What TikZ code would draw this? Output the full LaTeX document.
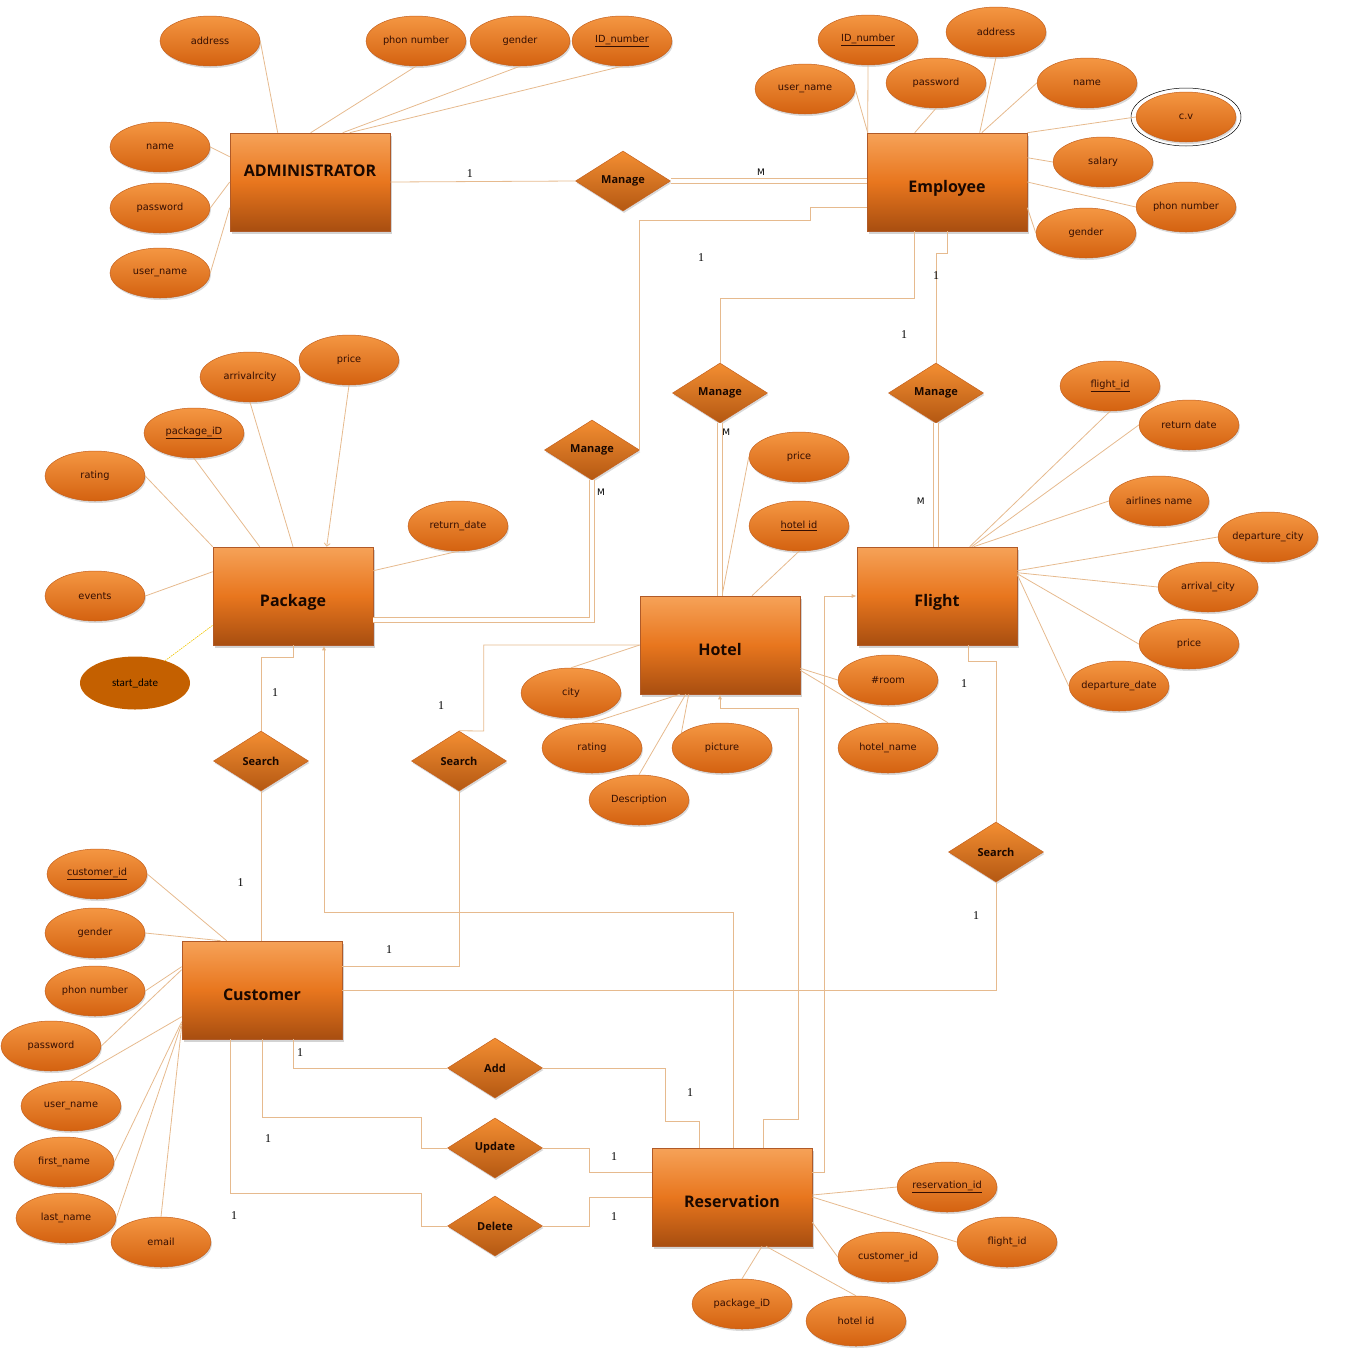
\documentclass[tikz,border=0pt]{standalone}
\usepackage{fontspec}
\setmainfont{Open Sans}
\newfontfamily\attrfont{DejaVu Sans}
\newfontfamily\numfont{Liberation Serif}
\newfontfamily\calfont{Carlito}
\usetikzlibrary{shapes.geometric,shadows,calc,arrows.meta}

\definecolor{lnc}{RGB}{230,186,142}
\definecolor{attrt}{RGB}{244,150,66}
\definecolor{attrbot}{RGB}{212,98,16}
\definecolor{attrb}{RGB}{196,96,30}
\definecolor{attrtx}{RGB}{52,14,2}
\definecolor{entt}{RGB}{246,162,88}
\definecolor{entm}{RGB}{232,118,30}
\definecolor{entbot}{RGB}{168,78,16}
\definecolor{entb}{RGB}{176,90,40}
\definecolor{enttx}{RGB}{26,8,0}
\definecolor{relt}{RGB}{243,142,50}
\definecolor{relbot}{RGB}{180,88,18}
\definecolor{sdc}{RGB}{196,96,0}
\definecolor{sdline}{RGB}{240,196,0}

\tikzset{
  attr/.style={ellipse, draw=attrb, line width=0.5pt, minimum width=100pt, minimum height=50pt,
    inner xsep=-8pt, inner ysep=0pt, top color=attrt, bottom color=attrbot,
    drop shadow={shadow xshift=1pt, shadow yshift=-2pt, opacity=0.3},
    font=\attrfont\fontsize{9.8}{11}\selectfont, text=attrtx},
  sattr/.style={ellipse, fill=sdc, minimum width=110pt, minimum height=53pt, inner sep=0pt,
    font=\calfont\fontsize{11}{12}\selectfont, text=black},
  ent/.style={rectangle, draw=entb, line width=0.6pt, minimum width=160pt, minimum height=98pt,
    text height=20pt, text depth=0pt,
    top color=entt, bottom color=entbot, middle color=entm,
    drop shadow={shadow xshift=1.5pt, shadow yshift=-2.5pt, opacity=0.35},
    font=\fontsize{16}{18}\selectfont\bfseries, text=enttx},
  rel/.style={diamond, draw=attrb, line width=0.5pt, minimum width=95pt, minimum height=60pt,
    inner sep=0pt, top color=relt, bottom color=relbot,
    drop shadow={shadow xshift=1pt, shadow yshift=-2pt, opacity=0.3},
    font=\fontsize{11}{13}\selectfont\bfseries, text=enttx},
  card/.style={font=\numfont\fontsize{12}{13}\selectfont, inner sep=1pt},
  mcard/.style={font=\attrfont\fontsize{9}{11}\selectfont, inner sep=1pt},
  ln/.style={draw=lnc, line width=0.8pt},
  dbl/.style={ln, double=white, double distance=3.5pt},
  sdl/.style={draw=sdline, line width=0.6pt, dash pattern=on 1.5pt off 1pt}
}

\begin{document}
\begin{tikzpicture}[x=1pt,y=-1pt,>={Latex[length=5pt,width=4pt]}]
\useasboundingbox (0,0) rectangle (1352,1350);

\node[ent,text depth=31pt] (adm) at (310,182) {ADMINISTRATOR};
\node[ent] (emp) at (947,182) {Employee};
\node[ent] (pkg) at (293,596) {Package};
\node[ent] (htl) at (720,645) {Hotel};
\node[ent] (flt) at (937,596) {Flight};
\node[ent] (cus) at (262,990) {Customer};
\node[ent] (res) at (732,1197) {Reservation};

\node[rel] (mg1) at (623,181) {Manage};
\node[rel] (mg2) at (592,450) {Manage};
\node[rel] (mg3) at (720,393) {Manage};
\node[rel] (mg4) at (936,393) {Manage};
\node[rel] (sr1) at (261,761) {Search};
\node[rel] (sr2) at (459,761) {Search};
\node[rel] (sr3) at (996,852) {Search};
\node[rel] (add) at (495,1068) {Add};
\node[rel] (upd) at (495,1148) {Update};
\node[rel] (del) at (495,1226) {Delete};

\node[attr] (aad) at (210,41) {address};
\node[attr] (aph) at (416,41) {phon number};
\node[attr] (agd) at (520,41) {gender};
\node[attr] (aid) at (622,41) {\underline{ID\_number}};
\node[attr] (anm) at (160,147) {name};
\node[attr] (apw) at (160,208) {password};
\node[attr] (aun) at (160,273) {user\_name};

\node[attr] (eid) at (868,40) {\underline{ID\_number}};
\node[attr] (ead) at (996,32) {address};
\node[attr] (eun) at (805,89) {user\_name};
\node[attr] (epw) at (936,83) {password};
\node[attr] (enm) at (1087,83) {name};
\node[attr] (ecv) at (1186,117) {c.v};
\node[attr] (esl) at (1103,162) {salary};
\node[attr] (eph) at (1186,207) {phon number};
\node[attr] (egd) at (1086,233) {gender};
\draw[black, line width=0.5pt] (ecv) ellipse [x radius=55pt, y radius=29pt];

\node[attr] (ppr) at (349,360) {price};
\node[attr] (par) at (250,377) {arrivalrcity};
\node[attr] (pid) at (194,433) {\underline{package\_iD}};
\node[attr] (prt) at (95,476) {rating};
\node[attr] (prd) at (458,526) {return\_date};
\node[attr] (pev) at (95,596) {events};
\node[sattr] (psd) at (135,683) {start\_date};

\node[attr] (hpr) at (799,457) {price};
\node[attr] (hid) at (799,526) {\underline{hotel id}};
\node[attr] (hct) at (571,693) {city};
\node[attr] (hrt) at (592,748) {rating};
\node[attr] (hpc) at (722,748) {picture};
\node[attr] (hds) at (639,800) {Description};
\node[attr] (hrm) at (888,680) {\#room};
\node[attr] (hnm) at (888,748) {hotel\_name};

\node[attr] (fid) at (1110,386) {\underline{flight\_id}};
\node[attr] (frd) at (1189,425) {return date};
\node[attr] (fan) at (1159,501) {airlines name};
\node[attr] (fdc) at (1268,537) {departure\_city};
\node[attr] (fac) at (1208,587) {arrival\_city};
\node[attr] (fpr) at (1189,644) {price};
\node[attr] (fdd) at (1119,686) {departure\_date};

\node[attr] (cid) at (97,874) {\underline{customer\_id}};
\node[attr] (cgd) at (95,933) {gender};
\node[attr] (cph) at (95,991) {phon number};
\node[attr] (cpw) at (51,1046) {password};
\node[attr] (cun) at (71,1106) {user\_name};
\node[attr] (cfn) at (64,1162) {first\_name};
\node[attr] (cln) at (66,1218) {last\_name};
\node[attr] (cem) at (161,1242) {email};

\node[attr] (rid) at (947,1187) {\underline{reservation\_id}};
\node[attr] (rfi) at (1007,1242) {flight\_id};
\node[attr] (rci) at (888,1257) {customer\_id};
\node[attr] (rpi) at (742,1304) {package\_iD};
\node[attr] (rhi) at (856,1321) {hotel id};

\draw[ln] (aad.east) -- ($(adm.north west)+(48,0)$);
\draw[ln] (aph.south) -- ($(adm.north west)+(81,0)$);
\draw[ln] (agd.south) -- ($(adm.north west)+(113,0)$);
\draw[ln] (aid.south) -- ($(adm.north west)+(120,0)$);
\draw[ln] (anm.east) -- ($(adm.north west)+(0,24)$);
\draw[ln] (apw.east) -- (adm.west);
\draw[ln] (aun.east) -- ($(adm.north west)+(0,75)$);

\draw[ln] (eid.south) -- ($(emp.north west)+(1,0)$);
\draw[ln] (eun.east) -- ($(emp.north west)+(1,0)$);
\draw[ln] (epw.south) -- ($(emp.north west)+(48,0)$);
\draw[ln] (ead.south) -- ($(emp.north west)+(113,0)$);
\draw[ln] (enm.west) -- ($(emp.north west)+(115,0)$);
\draw[ln] (ecv.west) -- (emp.north east);
\draw[ln] (esl.west) -- ($(emp.north east)+(0,25)$);
\draw[ln] (eph.west) -- (emp.east);
\draw[ln] (egd.west) -- ($(emp.north east)+(0,75)$);

\draw[ln,-{Straight Barb[length=3pt,width=6pt]}] (ppr.south) -- ($(pkg.north west)+(114,0)$);
\draw[ln] (par.south) -- (pkg.north);
\draw[ln] (pid.south) -- ($(pkg.north west)+(47,0)$);
\draw[ln] (prt.east) -- (pkg.north west);
\draw[ln] (pev.east) -- ($(pkg.north west)+(0,25)$);
\draw[ln] (prd.south) -- ($(pkg.north east)+(0,24)$);
\draw[sdl] (psd) -- ($(pkg.south west)+(0,-20)$);

\draw[ln] (hpr.west) -- ($(htl.north)+(2,0)$);
\draw[ln] (hid.south) -- ($(htl.north)+(32,0)$);
\draw[ln] (hct.north) -- (htl.west);
\draw[ln] (hrt.north) -- ($(htl.south west)+(40,0)$);
\draw[ln] (hpc.160) -- ($(htl.south west)+(49,0)$);
\draw[ln] (hds.north) -- ($(htl.south west)+(46,0)$);
\draw[ln] (hrm.west) -- ($(htl.south east)+(0,-26)$);
\draw[ln] (hnm.north) -- ($(htl.south east)+(0,-24)$);

\draw[ln] (fid.south) -- ($(flt.north west)+(113,0)$);
\draw[ln] (frd.west) -- ($(flt.north west)+(115,0)$);
\draw[ln] (fan.west) -- ($(flt.north west)+(117,0)$);
\draw[ln] (fdc.west) -- ($(flt.north east)+(0,24)$);
\draw[ln] (fac.west) -- ($(flt.north east)+(0,26)$);
\draw[ln] (fpr.west) -- ($(flt.north east)+(0,27)$);
\draw[ln] (fdd.west) -- ($(flt.north east)+(0,28)$);

\draw[ln] (cid.east) -- ($(cus.north west)+(45,0)$);
\draw[ln] (cgd.east) -- ($(cus.north west)+(39,0)$);
\draw[ln] (cph.east) -- ($(cus.north west)+(0,26)$);
\draw[ln] (cpw.east) -- ($(cus.north west)+(0,29)$);
\draw[ln] (cun.north) -- ($(cus.north west)+(0,76)$);
\draw[ln] (cfn.east) -- ($(cus.north west)+(0,81)$);
\draw[ln] (cln.east) -- ($(cus.north west)+(0,83)$);
\draw[ln] (cem.north) -- ($(cus.north west)+(0,85)$);

\draw[ln] (rid.west) -- ($(res.east)+(0,-2)$);
\draw[ln] (rfi.west) -- (res.east);
\draw[ln] (rci.west) -- ($(res.south east)+(0,-24)$);
\draw[ln] (rpi.north) -- ($(res.south)+(30,0)$);
\draw[ln] (rhi.north) -- ($(res.south)+(34,0)$);

\draw[ln] (adm.east) -- node[card,above=3pt,pos=0.43] {1} (mg1.west);
\draw[dbl] (mg1.east) -- node[mcard,above=4pt,pos=0.46] {M} (mg1.east -| emp.west);
\draw[ln] ($(emp.west)+(0,25)$) -- ++(-56,0) -- ++(0,13) -| (mg2.east);
\draw[ln] ($(emp.south west)+(48,0)$) -- ++(0,67) -| (mg3.north);
\draw[ln] (emp.south) -- ++(0,22) -| (mg4.north);
\draw[dbl] (mg2.south) |- ($(pkg.east)+(0,24)$);
\draw[dbl] (mg3.south) -- node[mcard,right=1pt,pos=0.05] {M} (htl.north);
\draw[dbl] (mg4.south) -- node[mcard,left=10pt,pos=0.63] {M} (mg4.south |- flt.north);

\draw[ln] (pkg.south) -- ++(0,12) -| (sr1.north);
\draw[ln] (sr1.south) -- node[card,left=16pt,pos=0.61] {1} (sr1.south |- cus.north);
\draw[ln] (htl.west) -- ++(-156,0) -- ++(0,86) -- (sr2.north);
\draw[ln] (sr2.south) |- ($(cus.east)+(0,-24)$);
\draw[ln] ($(flt.south)+(31,0)$) -- ++(0,16) -| (sr3.north);
\draw[ln] (sr3.south) |- (cus.east);

\draw[ln] ($(cus.south)+(31,0)$) |- (add.west);
\draw[ln] (add.east) -- ++(123,0) -- ++(0,53) -| ($(res.north west)+(48,0)$);
\draw[ln] (cus.south) -- ++(0,78) -| ($(upd.west)+(-26,0)$) -- (upd.west);
\draw[ln] (upd.east) -- ++(47,0) |- ($(res.west)+(0,-25)$);
\draw[ln] ($(cus.south)+(-32,0)$) -- ++(0,154) -| ($(del.west)+(-26,0)$) -- (del.west);
\draw[ln] (del.east) -- ++(47,0) |- (res.west);

\draw[ln,->] ($(res.north)+(1,0)$) -- ++(0,-235) -| ($(pkg.south)+(31,0)$);
\draw[ln,->] ($(res.north)+(31,0)$) -- ++(0,-28) -- ++(35,0) |- ($(htl.south)+(0,14)$) -- (htl.south);
\draw[ln,->] ($(res.east)+(0,-25)$) -- ++(12,0) |- (flt.west);

\node[card] (k1) at (701,258) {1};
\node[card] (k2) at (936,276) {1};
\node[card] (k3) at (904,335) {1};
\node[mcard] (k4) at (601,492) {M};
\node[card] (k5) at (275,693) {1};
\node[card] (k6) at (441,706) {1};
\node[card] (k7) at (964,684) {1};
\node[card] (k8) at (976,916) {1};
\node[card] (k9) at (389,950) {1};
\node[card] (k10) at (300,1053) {1};
\node[card] (k11) at (690,1093) {1};
\node[card] (k12) at (268,1139) {1};
\node[card] (k13) at (614,1157) {1};
\node[card] (k14) at (234,1216) {1};
\node[card] (k15) at (614,1217) {1};
\end{tikzpicture}
\end{document}
